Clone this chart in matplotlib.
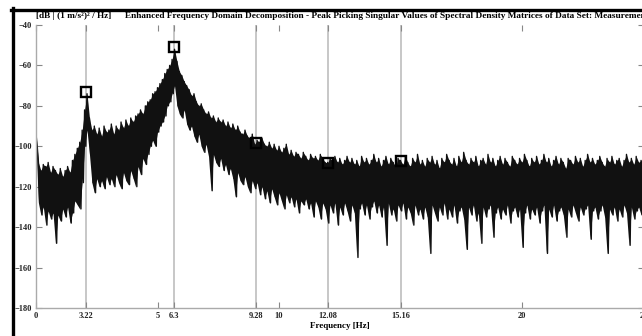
import numpy as np
from matplotlib import pyplot as plt
from matplotlib.lines import Line2D

plt.rcParams['font.family'] = ['Liberation Serif', 'DejaVu Serif']
plt.rcParams['font.weight'] = 'bold'

# frequency grid [Hz], 0.1 Hz step
freq = np.round(np.arange(0, 25.05, 0.1), 1)

# upper edge of the singular value band [dB]
sv_top = [
    -94, -108, -112, -109, -110, -108, -113, -110, -112, -114,
    -111, -115, -112, -110, -113, -107, -104, -101, -98, -92,
    -82, -74, -86, -92, -90, -94, -91, -95, -90, -93,
    -92, -89, -94, -90, -92, -88, -91, -87, -90, -86,
    -88, -85, -84, -82, -84, -80, -78, -77, -74, -73,
    -71, -69, -67, -64, -62, -60, -57, -52, -58, -63,
    -65, -68, -70, -72, -75, -74, -78, -80, -79, -82,
    -84, -83, -86, -85, -88, -86, -88, -87, -90, -88,
    -91, -89, -92, -90, -93, -94, -92, -95, -96, -94,
    -99, -97, -98, -96, -99, -100, -98, -101, -99, -102,
    -100, -103, -101, -99, -104, -102, -105, -103, -104, -106,
    -103, -105, -107, -104, -106, -105, -107, -104, -106, -108,
    -108, -106, -107, -105, -108, -106, -109, -107, -105, -108,
    -106, -109, -107, -110, -105, -108, -106, -109, -107, -104,
    -108, -106, -110, -107, -105, -109, -106, -108, -110, -106,
    -107, -109, -105, -108, -110, -106, -108, -104, -109, -107,
    -110, -106, -108, -105, -109, -107, -111, -106, -108, -104,
    -107, -109, -106, -110, -105, -108, -103, -107, -109, -106,
    -108, -105, -110, -107, -106, -109, -104, -108, -106, -110,
    -107, -105, -109, -106, -108, -110, -105, -107, -109, -106,
    -108, -104, -107, -110, -106, -108, -105, -109, -107, -104,
    -108, -106, -110, -107, -105, -109, -106, -108, -111, -106,
    -107, -109, -105, -108, -106, -110, -107, -104, -108, -106,
    -109, -107, -105, -108, -110, -106, -108, -105, -109, -107,
    -106, -110, -107, -104, -108, -106, -109, -105, -108, -107, -106,
]

# lower edge of the band, with the downward spikes [dB]
sv_bottom = [
    -100, -128, -134, -130, -139, -132, -136, -133, -148, -134,
    -137, -131, -135, -130, -138, -133, -127, -129, -131, -118,
    -100, -92, -104, -118, -123, -116, -120, -117, -121, -115,
    -119, -116, -120, -114, -118, -121, -113, -117, -119, -112,
    -116, -120, -110, -114, -106, -109, -104, -100, -97, -100,
    -93, -90, -88, -85, -80, -78, -74, -70, -80, -84,
    -86, -82, -89, -92, -90, -95, -98, -94, -100, -103,
    -99, -105, -122, -104, -108, -110, -106, -112, -109, -114,
    -111, -116, -125, -113, -117, -119, -115, -120, -123, -117,
    -121, -118, -124, -120, -126, -122, -128, -121, -125, -129,
    -123, -127, -131, -124, -128, -125, -130, -126, -133, -127,
    -129, -126, -131, -128, -135, -127, -130, -136, -128, -131,
    -138, -129, -133, -128, -139, -130, -134, -128, -132, -137,
    -129, -133, -155, -131, -128, -134, -129, -136, -130, -127,
    -133, -129, -135, -130, -149, -128, -134, -131, -137, -129,
    -132, -128, -136, -130, -133, -139, -129, -134, -131, -136,
    -130, -135, -153, -129, -133, -137, -130, -134, -128, -136,
    -131, -135, -129, -138, -132, -130, -136, -151, -130, -134,
    -129, -137, -133, -148, -130, -135, -131, -129, -145, -133,
    -130, -136, -131, -134, -129, -138, -132, -130, -135, -131,
    -150, -133, -129, -136, -131, -134, -130, -138, -132, -129,
    -153, -131, -135, -129, -137, -132, -130, -134, -145, -131,
    -135, -129, -133, -137, -130, -134, -131, -129, -146, -132,
    -130, -136, -132, -129, -135, -153, -131, -134, -130, -137,
    -131, -135, -129, -133, -149, -130, -136, -132, -130, -134, -131,
]

# picked peaks (position on the axis, level, label)
peak_freq = [2.06, 5.68, 9.05, 12.0, 15.0]
peak_db = [-73, -51, -98.3, -108.3, -107.5]
peak_labels = ['3.22', '6.3', '9.28', '12.08', '15.16']

axis_ticks = [0, 5, 10, 20, 25]
y_ticks = [-40, -60, -80, -100, -120, -140, -160, -180]

fig = plt.figure(figsize=(6.42, 3.36), dpi=100)
ax = fig.add_axes([36/642, 28/336, 607.5/642, 283/336])

for f in peak_freq:
    ax.axvline(f, color='#b8b8b8', lw=1.1, zorder=1)

ax.fill_between(freq, sv_bottom, sv_top, color='#111111', lw=0, zorder=2)
zz_x = np.column_stack([freq, freq + 0.05]).ravel()
zz_y = np.column_stack([sv_top, sv_bottom]).ravel()
ax.plot(zz_x, zz_y, color='#111111', lw=1.0, zorder=2)

ax.plot(peak_freq, peak_db, 's', mfc='none', mec='black', ms=7.5, mew=1.7, zorder=3)

ticks = axis_ticks + peak_freq
labels = [str(t) for t in axis_ticks] + peak_labels
ax.set_xticks(ticks)
ax.set_xticklabels(labels)
ax.set_yticks(y_ticks)
ax.set_xlim(0, 25)
ax.set_ylim(-180, -40)

for s in ['top', 'right']:
    ax.spines[s].set_visible(False)
for s in ['left', 'bottom']:
    ax.spines[s].set_color('#aaaaaa')
    ax.spines[s].set_linewidth(1.0)
ax.tick_params(direction='in', length=4, width=0.8, color='#888888',
               top=True, right=True, labelsize=6, labelcolor='#222222', pad=3)
ax.set_xlabel('Frequency [Hz]', fontsize=6.5, labelpad=1, fontweight='bold')

fig.text(36/642, 1 - 16/336, '[dB | (1 m/s²)² / Hz]', fontsize=6.7,
         fontweight='bold', va='center', ha='left')
fig.text(125/642, 1 - 16/336,
         'Enhanced Frequency Domain Decomposition - Peak Picking Singular Values '
         'of Spectral Density Matrices of Data Set: Measurement 1',
         fontsize=6.7, fontweight='bold', va='center', ha='left')

# screenshot frame
fig.add_artist(Line2D([12.5/642, 12.5/642], [0, 1 - 8/336], color='black', lw=2.4))
fig.add_artist(Line2D([11/642, 1], [1 - 9.5/336, 1 - 9.5/336], color='black', lw=2.4))

plt.savefig('out.png', dpi=100)
